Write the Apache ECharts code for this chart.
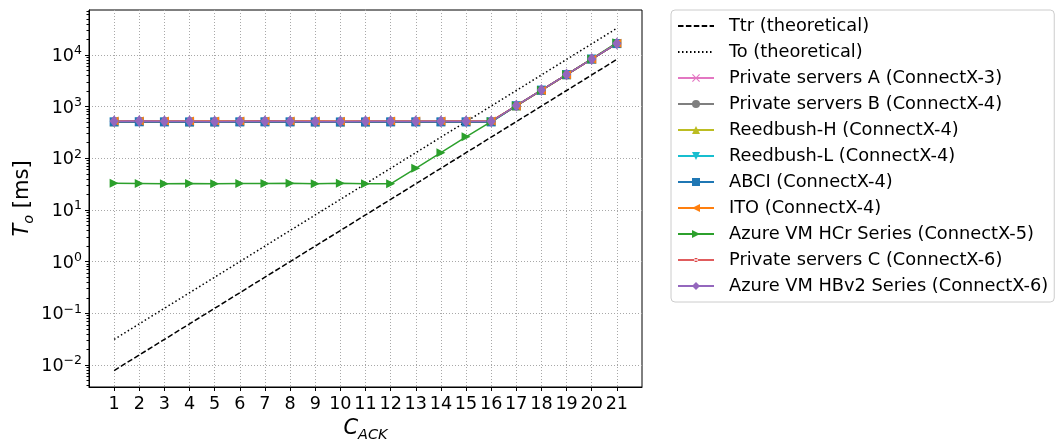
<!DOCTYPE html>
<html>
<head>
<meta charset="utf-8">
<script src="https://cdn.jsdelivr.net/npm/echarts@6/dist/echarts.min.js"></script>
<style>
  html, body { margin: 0; padding: 0; background: #fff; }
  #chart { width: 1056px; height: 441px; }
</style>
</head>
<body>
<div id="chart"></div>
<script>
// C_ACK values on the x axis
const cAck = [1, 2, 3, 4, 5, 6, 7, 8, 9, 10, 11, 12, 13, 14, 15, 16, 17, 18, 19, 20, 21]
const xTickLabels = ['1', '2', '3', '4', '5', '6', '7', '8', '9', '10', '11', '12', '13', '14', '15', '16', '17', '18', '19', '20', '21']
const yTickValues = [0.01, 0.1, 1, 10, 100, 1000, 10000]
const yTickExps = ['\u22122', '\u22121', '0', '1', '2', '3', '4']

// theoretical curves (ms)
const ttrTheory = [0.0078125, 0.015625, 0.03125, 0.0625, 0.125, 0.25, 0.5, 1, 2, 4, 8, 16, 32, 64, 128, 256, 512, 1024, 2048, 4096, 8192]
const toTheory = [0.03125, 0.0625, 0.125, 0.25, 0.5, 1, 2, 4, 8, 16, 32, 64, 128, 256, 512, 1024, 2048, 4096, 8192, 16384, 32768]

// measured T_o (ms)
const privA = [515, 518, 515, 512, 515, 515, 518, 515, 512, 512, 515, 515, 515, 515, 515, 515, 1040, 2080, 4160, 8320, 16640]
const privB = [512, 515, 515, 512, 512, 515, 515, 515, 512, 512, 512, 515, 515, 515, 515, 515, 1035, 2075, 4150, 8310, 16600]
const reedH = [510, 512, 512, 510, 510, 512, 512, 512, 510, 510, 510, 512, 512, 512, 512, 512, 1030, 2070, 4140, 8300, 16580]
const reedL = [498, 500, 500, 498, 498, 500, 500, 500, 498, 496, 498, 500, 500, 500, 500, 500, 1030, 2065, 4130, 8280, 16550]
const abci = [505, 508, 505, 503, 503, 505, 506, 505, 503, 502, 503, 505, 505, 505, 505, 505, 1035, 2070, 4140, 8290, 16560]
const ito = [525, 528, 526, 524, 524, 526, 528, 526, 524, 522, 524, 526, 526, 526, 526, 526, 1030, 2060, 4120, 8270, 16900]
const azureHCr = [33, 32.5, 32, 32.5, 32, 32.5, 32.5, 33, 32, 33, 32, 32, 64, 128, 260, 512, 1040, 2080, 4170, 8350, 17200]
const privC = [515, 518, 516, 514, 514, 516, 518, 516, 514, 512, 514, 516, 516, 516, 516, 516, 1040, 2080, 4150, 8300, 16600]
const azureHBv2 = [520, 525, 520, 518, 515, 520, 522, 520, 515, 515, 518, 520, 520, 520, 522, 520, 1045, 2090, 4170, 8330, 16700]

// log minor ticks (2..9 x 10^n) as in matplotlib
const minorTicks = []
for (let e = -3; e <= 4; e++) {
  for (let m = 2; m <= 9; m++) minorTicks.push(m * Math.pow(10, e))
}

const FONT = 'DejaVu Sans'
const pair = (vals) => cAck.map((c, i) => [c, vals[i]])

const measured = (name, color, vals, symbol, size, rotate) => ({
  name,
  type: 'line',
  data: pair(vals),
  symbol,
  symbolSize: size,
  symbolRotate: rotate || 0,
  showSymbol: true,
  lineStyle: { color, width: 1.5 },
  itemStyle: { color, borderWidth: 0 },
  emphasis: { disabled: true },
  animation: false
})

const xSymbol = 'path://M0,1L1,0L5,4L9,0L10,1L6,5L10,9L9,10L5,6L1,10L0,9L4,5Z'
// legend handle for the '.' marker: thin line with a small dot
const pointLegend = 'path://M0,2.25h36v1.5h-36z M16,3a2,2 0 1,0 4,0a2,2 0 1,0 -4,0z'

const chart = echarts.init(document.getElementById('chart'))
chart.setOption({
  animation: false,
  textStyle: { fontFamily: FONT },
  grid: {
    left: 89, right: 414, top: 10, bottom: 54,
    outerBoundsMode: 'none',
    show: true, borderColor: '#000', borderWidth: 1, backgroundColor: 'transparent'
  },
  legend: {
    orient: 'vertical',
    left: 671,
    top: 10,
    padding: [7, 6, 7, 6],
    itemWidth: 36,
    itemHeight: 10,
    itemGap: 8,
    borderColor: '#cccccc',
    borderWidth: 1,
    borderRadius: 4,
    textStyle: { fontFamily: FONT, fontSize: 17.8, color: '#000', padding: [0, 0, 0, 10] },
    data: [
      { name: 'Ttr (theoretical)', itemStyle: { opacity: 0 } },
      { name: 'To (theoretical)', itemStyle: { opacity: 0 } },
      'Private servers A (ConnectX-3)', 'Private servers B (ConnectX-4)',
      'Reedbush-H (ConnectX-4)', 'Reedbush-L (ConnectX-4)', 'ABCI (ConnectX-4)', 'ITO (ConnectX-4)',
      'Azure VM HCr Series (ConnectX-5)',
      { name: 'Private servers C (ConnectX-6)', icon: pointLegend },
      'Azure VM HBv2 Series (ConnectX-6)'
    ]
  },
  xAxis: {
    type: 'value',
    min: 0,
    max: 22,
    name: '{i|C}{s|ACK}',
    nameLocation: 'middle',
    nameGap: 29,
    nameTextStyle: {
      rich: {
        i: { fontFamily: FONT, fontStyle: 'italic', fontSize: 21, color: '#000', verticalAlign: 'bottom', padding: [0, 0, 4, 0] },
        s: { fontFamily: FONT, fontStyle: 'italic', fontSize: 14.5, color: '#000', verticalAlign: 'bottom' }
      }
    },
    axisLine: { show: true, lineStyle: { color: '#000' } },
    axisTick: { show: true, length: 4, customValues: cAck, lineStyle: { color: '#000' } },
    axisLabel: {
      customValues: cAck,
      formatter: (v) => xTickLabels[cAck.indexOf(v)],
      fontSize: 17.6,
      color: '#000',
      margin: 8
    },
    splitLine: { show: true, lineStyle: { color: '#a8a8a8', type: [1, 2], width: 1 } }
  },
  yAxis: [
    {
      type: 'log',
      logBase: 10,
      min: 0.00375,
      max: 74000,
      name: '{i|T}{s|o}{n| [ms]}',
      nameLocation: 'middle',
      nameRotate: 90,
      nameGap: 52,
      nameMoveOverlap: false,
      nameTextStyle: {
        rich: {
          i: { fontFamily: FONT, fontStyle: 'italic', fontSize: 21, color: '#000', verticalAlign: 'bottom', padding: [0, 0, 4, 0] },
          s: { fontFamily: FONT, fontStyle: 'italic', fontSize: 14.5, color: '#000', verticalAlign: 'bottom' },
          n: { fontFamily: FONT, fontSize: 21, color: '#000', verticalAlign: 'bottom', padding: [0, 0, 4, 0] }
        }
      },
      axisLine: { show: true, lineStyle: { color: '#000' } },
      axisTick: { show: true, length: 4, customValues: yTickValues, lineStyle: { color: '#000' } },
      axisLabel: {
        customValues: yTickValues,
        formatter: (v) => {
          const k = yTickValues.findIndex((t) => Math.abs(Math.log10(t) - Math.log10(v)) < 1e-6)
          return '{b|10}{s|' + yTickExps[k] + '}'
        },
        margin: 7,
        rich: {
          b: { fontFamily: FONT, fontSize: 17.6, color: '#000', verticalAlign: 'bottom' },
          s: { fontFamily: FONT, fontSize: 12.5, color: '#000', verticalAlign: 'bottom', padding: [0, 0, 8, 0] }
        }
      },
      splitLine: { show: true, lineStyle: { color: '#a8a8a8', type: [1, 2], width: 1 } }
    },
    {
      type: 'log',
      logBase: 10,
      min: 0.00375,
      max: 74000,
      position: 'left',
      axisLine: { show: false },
      axisLabel: { show: false },
      splitLine: { show: false },
      axisTick: { show: true, length: 2.5, customValues: minorTicks, lineStyle: { color: '#000' } }
    }
  ],
  series: [
    {
      name: 'Ttr (theoretical)', type: 'line', data: pair(ttrTheory), symbol: 'none',
      lineStyle: { color: '#000', width: 1.5, type: [5.5, 2.4] }, itemStyle: { color: '#000' }, emphasis: { disabled: true }
    },
    {
      name: 'To (theoretical)', type: 'line', data: pair(toTheory), symbol: 'none',
      lineStyle: { color: '#000', width: 1.5, type: [1.5, 2.5] }, itemStyle: { color: '#000' }, emphasis: { disabled: true }
    },
    measured('Private servers A (ConnectX-3)', '#e377c2', privA, xSymbol, 8),
    measured('Private servers B (ConnectX-4)', '#7f7f7f', privB, 'circle', 8),
    measured('Reedbush-H (ConnectX-4)', '#bcbd22', reedH, 'triangle', 9),
    measured('Reedbush-L (ConnectX-4)', '#17becf', reedL, 'triangle', 9, 180),
    measured('ABCI (ConnectX-4)', '#1f77b4', abci, 'rect', 9),
    measured('ITO (ConnectX-4)', '#ff7f0e', ito, 'triangle', 9, 90),
    measured('Azure VM HCr Series (ConnectX-5)', '#2ca02c', azureHCr, 'triangle', 9, -90),
    measured('Private servers C (ConnectX-6)', '#d62728', privC, 'circle', 4),
    measured('Azure VM HBv2 Series (ConnectX-6)', '#9467bd', azureHBv2, 'diamond', [9, 12])
  ]
})
</script>
</body>
</html>
